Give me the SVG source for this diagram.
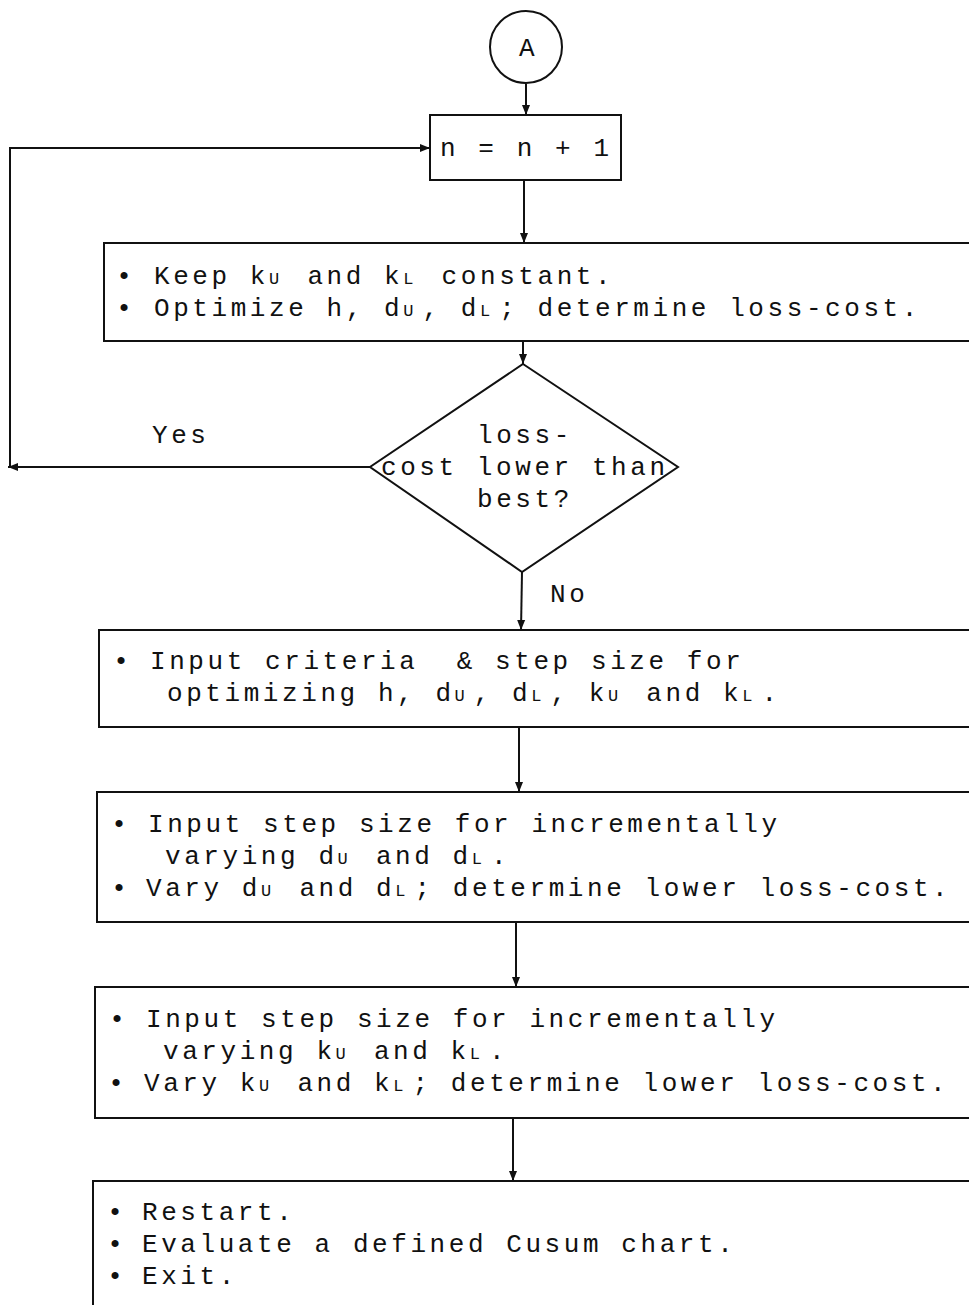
<svg xmlns="http://www.w3.org/2000/svg" width="969" height="1305" viewBox="0 0 969 1305">
<style>
.box{fill:none;stroke:#111;stroke-width:2}
.ln{fill:none;stroke:#111;stroke-width:2}
.t{font-family:"Liberation Mono","DejaVu Sans Mono",monospace;font-size:26px;letter-spacing:3.57px;fill:#111;white-space:pre}
.s{font-size:17px;letter-spacing:8.97px}
.b{font-family:"Liberation Mono","DejaVu Sans Mono",monospace;font-size:26px;fill:#111;text-anchor:middle}
</style>
<defs>
<marker id="ah" viewBox="0 0 10 10" refX="10" refY="5" markerWidth="10" markerHeight="10" markerUnits="userSpaceOnUse" orient="auto">
<path d="M0,1 L10,5 L0,9 z" fill="#111"/>
</marker>
</defs>
<rect width="969" height="1305" fill="#fff"/>
<g id="connectors">
<line class="ln" x1="526" y1="84" x2="526" y2="115" marker-end="url(#ah)"/>
<line class="ln" x1="524" y1="180" x2="524" y2="243" marker-end="url(#ah)"/>
<line class="ln" x1="523" y1="341" x2="523" y2="364" marker-end="url(#ah)"/>
<polyline class="ln" points="370,467 10,467 10,148 430,148" marker-end="url(#ah)"/>
<line class="ln" x1="370" y1="467" x2="8" y2="467" marker-end="url(#ah)"/>
<line class="ln" x1="522" y1="572" x2="521" y2="630" marker-end="url(#ah)"/>
<line class="ln" x1="519" y1="727" x2="519" y2="792" marker-end="url(#ah)"/>
<line class="ln" x1="516" y1="922" x2="516" y2="987" marker-end="url(#ah)"/>
<line class="ln" x1="513" y1="1118" x2="513" y2="1181" marker-end="url(#ah)"/>
<text class="t" x="152" y="443">Yes</text>
<text class="t" x="550" y="602">No</text>
</g>
<g id="start">
<circle cx="526" cy="47" r="36" class="box"/>
<text class="t" x="519" y="56">A</text>
</g>
<g id="incr">
<rect class="box" x="430" y="115" width="191" height="65"/>
<text class="t" x="440" y="156">n = n + 1</text>
</g>
<g id="keep">
<rect class="box" x="104" y="243" width="880" height="98"/>
<text class="b" x="124" y="284">•</text>
<text class="t" x="154" y="284">Keep k<tspan class="s">U</tspan> and k<tspan class="s">L</tspan> constant.</text>
<text class="b" x="124" y="316">•</text>
<text class="t" x="154" y="316">Optimize h, d<tspan class="s">U</tspan>, d<tspan class="s">L</tspan>; determine loss-cost.</text>
</g>
<g id="decision">
<polygon class="box" points="523,364 678,467 522,572 370,467"/>
<text class="t" x="477" y="443">loss-</text>
<text class="t" x="381" y="475">cost lower than</text>
<text class="t" x="477" y="507">best?</text>
</g>
<g id="criteria">
<rect class="box" x="99" y="630" width="885" height="97"/>
<text class="b" x="121" y="669">•</text>
<text class="t" x="150" y="669">Input criteria  &amp; step size for</text>
<text class="t" x="167" y="701">optimizing h, d<tspan class="s">U</tspan>, d<tspan class="s">L</tspan>, k<tspan class="s">U</tspan> and k<tspan class="s">L</tspan>.</text>
</g>
<g id="vary-d">
<rect class="box" x="97" y="792" width="887" height="130"/>
<text class="b" x="119" y="832">•</text>
<text class="t" x="148" y="832">Input step size for incrementally</text>
<text class="t" x="165" y="864">varying d<tspan class="s">U</tspan> and d<tspan class="s">L</tspan>.</text>
<text class="b" x="119" y="896">•</text>
<text class="t" x="146" y="896">Vary d<tspan class="s">U</tspan> and d<tspan class="s">L</tspan>; determine lower loss-cost.</text>
</g>
<g id="vary-k">
<rect class="box" x="95" y="987" width="889" height="131"/>
<text class="b" x="117" y="1027">•</text>
<text class="t" x="146" y="1027">Input step size for incrementally</text>
<text class="t" x="163" y="1059">varying k<tspan class="s">U</tspan> and k<tspan class="s">L</tspan>.</text>
<text class="b" x="116" y="1091">•</text>
<text class="t" x="144" y="1091">Vary k<tspan class="s">U</tspan> and k<tspan class="s">L</tspan>; determine lower loss-cost.</text>
</g>
<g id="end">
<rect class="box" x="93" y="1181" width="891" height="140"/>
<text class="b" x="115" y="1220">•</text>
<text class="t" x="142" y="1220">Restart.</text>
<text class="b" x="115" y="1252">•</text>
<text class="t" x="142" y="1252">Evaluate a defined Cusum chart.</text>
<text class="b" x="115" y="1284">•</text>
<text class="t" x="142" y="1284">Exit.</text>
</g>
</svg>
